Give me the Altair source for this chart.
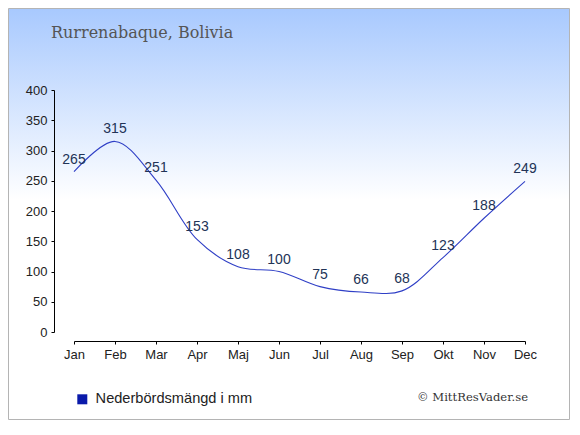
import altair as alt
import pandas as pd

months = ["Jan", "Feb", "Mar", "Apr", "Maj", "Jun", "Jul", "Aug", "Sep", "Okt", "Nov", "Dec"]
precip = [265, 315, 251, 153, 108, 100, 75, 66, 68, 123, 188, 249]
series_name = "Nederbördsmängd i mm"
title_text = "Rurrenabaque, Bolivia"
credit_text = "© MittResVader.se"
y_ticks = [0, 50, 100, 150, 200, 250, 300, 350, 400]

df = pd.DataFrame({"month": months, "value": precip, "serie": [series_name] * len(months)})

W, H = 451, 242
PL, PT, PR, PB = 66, 82, 45, 88

x_axis = alt.Axis(title=None, offset=9, tickSize=3, labelPadding=4, zindex=1,
                  labelFont="Liberation Sans", labelFontSize=13, labelColor="#222222",
                  labelOverlap=False,
                  domainColor="#000000", tickColor="#000000", labelAngle=0, grid=False)
y_axis = alt.Axis(title=None, offset=20, values=y_ticks, tickCount=9, tickSize=3, labelPadding=4,
                  zindex=1, labelFont="Liberation Sans", labelFontSize=13, labelColor="#222222",
                  labelOverlap=False, labelFlush=False,
                  domainColor="#000000", tickColor="#000000", grid=False)

x_enc = alt.X("month:N", sort=months, scale=alt.Scale(type="point", padding=0), axis=x_axis)
y_enc = alt.Y("value:Q", scale=alt.Scale(domain=[0, 400], nice=False), axis=y_axis)

one = alt.Data(values=[{}])

background = alt.Chart(one).mark_rect(
    fill=alt.LinearGradient(gradient="linear", x1=0, x2=0, y1=0, y2=1,
                            stops=[alt.GradientStop(color="#a8c9fe", offset=0),
                                   alt.GradientStop(color="#ffffff", offset=0.466),
                                   alt.GradientStop(color="#ffffff", offset=1)]),
    stroke="#b4b4b4", strokeWidth=1
).encode(x=alt.value(-PL + 0.5), x2=alt.value(W + PR - 0.5),
         y=alt.value(-PT + 0.5), y2=alt.value(H + PB - 0.5))

line = alt.Chart(df).mark_line(strokeWidth=1.1, interpolate="catmull-rom").encode(
    x=x_enc, y=y_enc,
    color=alt.Color("serie:N", scale=alt.Scale(domain=[series_name], range=["#2f3fc6"]),
                    legend=alt.Legend(title=None, orient="none", legendX=1, legendY=302,
                                      symbolType="square", symbolSize=100,
                                      symbolFillColor="#0a1aaa", symbolStrokeColor="#0a1aaa",
                                      symbolStrokeWidth=0, symbolOpacity=1,
                                      labelFont="Liberation Sans", labelFontSize=14.6,
                                      labelColor="#222222", labelOffset=6))
)

labels = alt.Chart(df).mark_text(dy=-8, baseline="alphabetic", align="center",
                                 font="Liberation Sans", fontSize=14, color="#223356").encode(
    x=x_enc, y=y_enc, text="value:Q")

title = alt.Chart(one).mark_text(align="left", baseline="alphabetic", font="DejaVu Serif",
                                 fontSize=16, color="#555555").encode(
    x=alt.value(-23), y=alt.value(-52), text=alt.value(title_text))

credit = alt.Chart(one).mark_text(align="right", baseline="alphabetic", font="DejaVu Serif",
                                  fontSize=11.6, color="#333333").encode(
    x=alt.value(454), y=alt.value(311), text=alt.value(credit_text))

chart = alt.layer(background, line, labels, title, credit).properties(
    width=W, height=H,
    autosize=alt.AutoSizeParams(type="none"),
    padding={"left": PL, "top": PT, "right": PR, "bottom": PB},
).configure_view(stroke=None).configure(background="#ffffff")

chart.save("out.html", embed_options={"renderer": "svg", "actions": False})
